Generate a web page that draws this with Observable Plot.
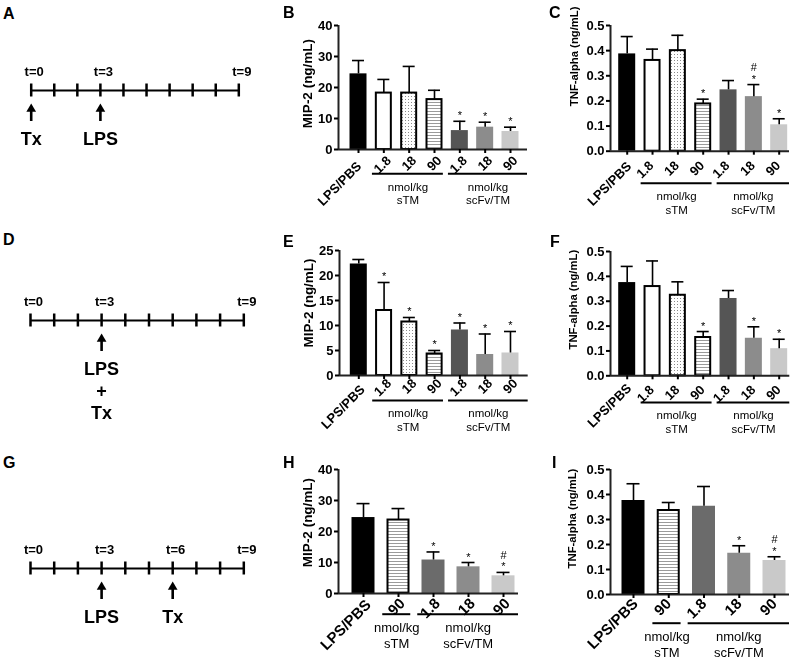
<!DOCTYPE html>
<html>
<head>
<meta charset="utf-8">
<script src="https://cdn.jsdelivr.net/npm/d3@7"></script>
<script src="https://cdn.jsdelivr.net/npm/@observablehq/plot@0.6"></script>
<style>
  body { margin: 0; background: #fff; }
  #fig { position: relative; width: 800px; height: 659px; overflow: hidden; font-family: Arial, "Liberation Sans", sans-serif; background: #fff; }
  .panel { position: absolute; will-change: transform; }
  .letter { position: absolute; font-weight: bold; font-size: 16px; line-height: 16px; color: #000; }
</style>
</head>
<body>
<svg width="0" height="0" style="position:absolute">
  <defs>
    <pattern id="dots" width="3" height="3" patternUnits="userSpaceOnUse">
      <rect width="3" height="3" fill="#fff"/>
      <rect x="1" y="1" width="1" height="1" fill="#8a8a8a"/>
    </pattern>
    <pattern id="hstripes" width="4" height="3" patternUnits="userSpaceOnUse">
      <rect width="4" height="3" fill="#fff"/>
      <rect y="1" width="4" height="1" fill="#9a9a9a"/>
    </pattern>
  </defs>
</svg>
<div id="fig"></div>
<script>
// ---------------- data ----------------
const fullCategories = ["LPS/PBS", "1.8", "18", "90", "1.8", "18", "90"];
const fullTreatments = ["LPS/PBS", "sTM", "sTM", "sTM", "scFv/TM", "scFv/TM", "scFv/TM"];
const lateCategories = ["LPS/PBS", "90", "1.8", "18", "90"];
const lateTreatments = ["LPS/PBS", "sTM", "scFv/TM", "scFv/TM", "scFv/TM"];

// B: pre-treatment, MIP-2
const mip2Pre = [24.4, 18.2, 18.2, 16.1, 6.1, 7.2, 5.8];
const mip2PreSem = [4.3, 4.4, 8.6, 3.0, 3.0, 1.6, 1.4];
const mip2PreSig = ["", "", "", "", "*", "*", "*"];
// C: pre-treatment, TNF-alpha
const tnfPre = [0.387, 0.361, 0.400, 0.188, 0.244, 0.217, 0.105];
const tnfPreSem = [0.069, 0.045, 0.061, 0.019, 0.037, 0.048, 0.024];
const tnfPreSig = ["", "", "", "*", "", "#\n*", "*"];
// E: co-treatment, MIP-2
const mip2Co = [22.3, 13.0, 10.7, 4.3, 9.1, 4.2, 4.5];
const mip2CoSem = [0.9, 5.6, 0.9, 0.7, 1.4, 4.1, 4.3];
const mip2CoSig = ["", "*", "*", "*", "*", "*", "*"];
// F: co-treatment, TNF-alpha
const tnfCo = [0.375, 0.359, 0.324, 0.154, 0.311, 0.151, 0.109];
const tnfCoSem = [0.065, 0.103, 0.054, 0.024, 0.032, 0.046, 0.038];
const tnfCoSig = ["", "", "", "*", "", "*", "*"];
// H: post-treatment, MIP-2
const mip2Post = [24.5, 23.7, 10.8, 8.6, 5.7];
const mip2PostSem = [4.5, 3.7, 2.6, 1.4, 1.1];
const mip2PostSig = ["", "", "*", "*", "#\n*"];
// I: post-treatment, TNF-alpha
const tnfPost = [0.376, 0.336, 0.353, 0.165, 0.136];
const tnfPostSem = [0.067, 0.032, 0.079, 0.030, 0.015];
const tnfPostSig = ["", "", "", "*", "#\n*"];

const mip2Ticks = [0, 10, 20, 30, 40];
const mip2CoTicks = [0, 5, 10, 15, 20, 25];
const tnfTicks = [0, 0.1, 0.2, 0.3, 0.4, 0.5];

// timelines
const timePoints = [0, 1, 2, 3, 4, 5, 6, 7, 8, 9];
const timeLabelTimes = [0, 3, 9];
const timeLabelTimesPost = [0, 3, 6, 9];
const preEventTimes = [0, 3];
const preEventLabels = ["Tx", "LPS"];
const coEventTimes = [3];
const coEventLabels = ["LPS\n+\nTx"];
const postEventTimes = [3, 6];
const postEventLabels = ["LPS", "Tx"];

// ---------------- styles ----------------
const barFills = {
  "LPS/PBS": "#000000",
  "sTM 1.8": "#ffffff",
  "sTM 18": "url(#dots)",
  "sTM 90": "url(#hstripes)",
  "scFv/TM 1.8": "#555555",
  "scFv/TM 18": "#8c8c8c",
  "scFv/TM 90": "#c9c9c9"
};
const outlinedKeys = new Set(["sTM 1.8", "sTM 18", "sTM 90"]);
const FONT = "Arial, 'Liberation Sans', sans-serif";
const fig = document.getElementById("fig");

function place(node, left, top) {
  node.classList.add("panel");
  node.style.left = left + "px";
  node.style.top = top + "px";
  fig.appendChild(node);
}

function barPanel(cfg, L) {
  const n = cfg.cats.length;
  const step = (L.c1 - L.c0) / (n - 1);
  const xMin = (L.left - L.c0) / step;
  const xMax = (n - 1) + (L.right - L.c1) / step;
  const sv = {l: L.left - 78, r: L.right + 8, t: L.top - 14, b: L.bottom + 72};
  const rows = cfg.cats.map((c, i) => {
    const key = cfg.treatments[i] === "LPS/PBS" ? "LPS/PBS" : cfg.treatments[i] + " " + c;
    return {
      i, cat: c, key,
      value: cfg.values[i],
      top: cfg.values[i] + cfg.sems[i],
      sig: cfg.sigs[i],
      outlined: outlinedKeys.has(key),
      fill: (cfg.fillOverride && cfg.fillOverride[key]) || barFills[key]
    };
  });
  const groups = [];
  cfg.treatments.forEach((t, i) => {
    if (t === "LPS/PBS") return;
    const g = groups[groups.length - 1];
    if (g && g.name === t && g.end === i - 1) g.end = i;
    else groups.push({name: t, start: i, end: i});
  });
  groups.forEach((g, k) => {
    g.x1 = g.start - 0.45;
    g.x2 = k === groups.length - 1 ? xMax : g.end + 0.35;
    g.xc = (g.x1 + g.x2) / 2;
    g.label = "nmol/kg\n" + g.name;
  });
  const hw = L.barW / 2 / step, px = 1 / step, cap = L.capW / 2 / step;
  const yMax = cfg.ticks[cfg.ticks.length - 1];
  const labelStyle = {x: "i", y: 0, text: "cat", rotate: -45, textAnchor: "end", fontSize: L.labFont, fontWeight: "bold"};
  const svg = Plot.plot({
    width: sv.r - sv.l,
    height: sv.b - sv.t,
    marginLeft: L.left - sv.l,
    marginRight: sv.r - L.right,
    marginTop: L.top - sv.t,
    marginBottom: sv.b - L.bottom,
    style: {background: "transparent", overflow: "visible", fontFamily: FONT, color: "#000"},
    x: {type: "linear", domain: [xMin, xMax]},
    y: {type: "linear", domain: [0, yMax]},
    color: {type: "identity"},
    marks: [
      Plot.rect(rows, {
        x1: d => d.i - hw + (d.outlined ? px : 0),
        x2: d => d.i + hw - (d.outlined ? px : 0),
        y1: 0, y2: "value",
        fill: "fill",
        stroke: d => d.outlined ? "#000000" : "none",
        strokeWidth: 2
      }),
      Plot.ruleX(rows, {x: "i", y1: "value", y2: "top", stroke: "#000", strokeWidth: 1.6}),
      Plot.ruleY(rows, {y: "top", x1: d => d.i - cap, x2: d => d.i + cap, stroke: "#000", strokeWidth: 1.6}),
      Plot.ruleY([0], {stroke: "#222", strokeWidth: 2}),
      Plot.ruleX([xMin], {stroke: "#222", strokeWidth: 2}),
      Plot.axisY({ticks: cfg.ticks, tickFormat: cfg.fmt, tickSize: 4, tickPadding: 2, fontSize: 13, fontWeight: "bold", strokeWidth: 2, label: null}),
      Plot.axisX({ticks: rows.map(d => d.i), tickSize: 4, tickFormat: () => "", strokeWidth: 2, label: null}),
      Plot.text(rows.filter(d => d.key === "LPS/PBS"), {...labelStyle, dx: L.ctrlOff[0], dy: L.ctrlOff[1]}),
      Plot.text(rows.filter(d => d.key !== "LPS/PBS"), {...labelStyle, dx: L.doseOff[0], dy: L.doseOff[1]}),
      Plot.ruleY(groups, {y: 0, x1: "x1", x2: "x2", dy: L.groupDy, stroke: "#000", strokeWidth: 2}),
      Plot.text(groups, {x: "xc", y: 0, text: "label", dy: L.groupDy + 7, lineAnchor: "top", fontSize: L.groupFont, lineHeight: 1.2}),
      Plot.text(rows.filter(d => d.sig), {x: "i", y: "top", text: "sig", lineAnchor: "bottom", dy: -2, fontSize: 11, lineHeight: 1.05, fill: "#000"}),
      Plot.text([cfg.yLabel], {frameAnchor: "left", text: d => d, rotate: -90, textAnchor: "middle", lineAnchor: "middle", dx: L.labelDx, dy: L.labelDy, fontSize: L.yFont, fontWeight: "bold"})
    ]
  });
  place(svg, sv.l, sv.t);
}

function timelinePanel(cfg, L) {
  const above = 45, below = 105;
  const labels = cfg.labelTimes.map(t => ({t, label: "t=" + t}));
  const events = cfg.eventTimes.map((t, k) => ({t, label: cfg.eventLabels[k]}));
  const svg = Plot.plot({
    width: 260,
    height: above + below,
    style: {background: "transparent", overflow: "visible", fontFamily: FONT, color: "#000"},
    x: {domain: [0, 9], range: [L.x0, L.x1], axis: null},
    y: {domain: [-above, below], range: [0, above + below], axis: null},
    marks: [
      Plot.ruleY([0], {x1: 0, x2: 9, stroke: "#000", strokeWidth: 2.2}),
      Plot.ruleX(timePoints, {x: d => d, y1: -6.5, y2: 6.5, stroke: "#000", strokeWidth: 2.5}),
      Plot.text(labels, {x: "t", y: -19, text: "label", dx: 3, fontSize: 13, fontWeight: "bold"}),
      Plot.ruleX(events, {x: "t", y1: 20, y2: 31, stroke: "#000", strokeWidth: 2.6}),
      Plot.dot(events, {x: "t", y: 18.5, symbol: "triangle", r: 3.6, fill: "#000", stroke: "none"}),
      Plot.text(events, {x: "t", y: 39.5, text: "label", lineAnchor: "top", fontSize: 18, fontWeight: "bold", lineHeight: 1.2})
    ]
  });
  place(svg, 0, L.lineY - above);
}

// ---------------- panels ----------------
const intFmt = d3.format("d");
const decFmt = d3.format(".1f");

timelinePanel({labelTimes: timeLabelTimes, eventTimes: preEventTimes, eventLabels: preEventLabels}, {lineY: 90, x0: 30.7, x1: 238.3});
timelinePanel({labelTimes: timeLabelTimes, eventTimes: coEventTimes, eventLabels: coEventLabels}, {lineY: 320, x0: 30, x1: 243.3});
timelinePanel({labelTimes: timeLabelTimesPost, eventTimes: postEventTimes, eventLabels: postEventLabels}, {lineY: 568.3, x0: 30, x1: 243.3});

const hiShade = {"scFv/TM 1.8": "#6b6b6b"};

barPanel({cats: fullCategories, treatments: fullTreatments, values: mip2Pre, sems: mip2PreSem, sigs: mip2PreSig, ticks: mip2Ticks, fmt: intFmt, yLabel: "MIP-2 (ng/mL)"},
  {left: 338, right: 527, top: 25, bottom: 149, c0: 358, c1: 510, barW: 17, capW: 12, labFont: 13, ctrlOff: [0.8, 14.6], doseOff: [5, 8.9], groupDy: 24.3, groupFont: 11.5, labelDx: -31, labelDy: -4, yFont: 13.5});
barPanel({cats: fullCategories, treatments: fullTreatments, values: tnfPre, sems: tnfPreSem, sigs: tnfPreSig, ticks: tnfTicks, fmt: decFmt, yLabel: "TNF-alpha (ng/mL)"},
  {left: 610, right: 789, top: 25, bottom: 150.7, c0: 626.7, c1: 778.7, barW: 17, capW: 12, labFont: 13, ctrlOff: [2, 13], doseOff: [-1, 12.2], groupDy: 32, groupFont: 11.5, labelDx: -36.5, labelDy: -32, yFont: 11.3});
barPanel({cats: fullCategories, treatments: fullTreatments, values: mip2Co, sems: mip2CoSem, sigs: mip2CoSig, ticks: mip2CoTicks, fmt: intFmt, yLabel: "MIP-2 (ng/mL)"},
  {left: 339, right: 527.7, top: 250, bottom: 375, c0: 358.3, c1: 510, barW: 17, capW: 12, labFont: 13, ctrlOff: [4, 11.9], doseOff: [5, 5.8], groupDy: 25, groupFont: 11.5, labelDx: -31, labelDy: -10, yFont: 13.5});
barPanel({cats: fullCategories, treatments: fullTreatments, values: tnfCo, sems: tnfCoSem, sigs: tnfCoSig, ticks: tnfTicks, fmt: decFmt, yLabel: "TNF-alpha (ng/mL)"},
  {left: 610, right: 789.3, top: 250.7, bottom: 375, c0: 626.7, c1: 778.7, barW: 17, capW: 12, labFont: 13, ctrlOff: [2, 10.3], doseOff: [-0.5, 11.9], groupDy: 26.7, groupFont: 11.5, labelDx: -37, labelDy: -14, yFont: 11.3});
barPanel({cats: lateCategories, treatments: lateTreatments, values: mip2Post, sems: mip2PostSem, sigs: mip2PostSig, ticks: mip2Ticks, fmt: intFmt, yLabel: "MIP-2 (ng/mL)", fillOverride: hiShade},
  {left: 338, right: 518, top: 469.3, bottom: 593.3, c0: 363, c1: 503, barW: 23, capW: 13, labFont: 15, ctrlOff: [5, 8.8], doseOff: [4, 7.5], groupDy: 20.7, groupFont: 13, labelDx: -31, labelDy: -9, yFont: 13.5});
barPanel({cats: lateCategories, treatments: lateTreatments, values: tnfPost, sems: tnfPostSem, sigs: tnfPostSig, ticks: tnfTicks, fmt: decFmt, yLabel: "TNF-alpha (ng/mL)", fillOverride: hiShade},
  {left: 610, right: 789, top: 469, bottom: 594, c0: 633, c1: 774, barW: 23, capW: 13, labFont: 15, ctrlOff: [2, 6.8], doseOff: [0, 6.8], groupDy: 28.7, groupFont: 13, labelDx: -38, labelDy: -13.5, yFont: 11.3});

// panel letters
const panelLetters = ["A", "B", "C", "D", "E", "F", "G", "H", "I"];
const letterSpots = [[3, 19], [283, 18], [549, 18], [3, 245], [283, 247], [550, 247], [3, 468], [283, 468], [552, 468]];
panelLetters.forEach((t, k) => {
  const d = document.createElement("div");
  d.className = "letter";
  d.textContent = t;
  d.style.left = letterSpots[k][0] + "px";
  d.style.top = (letterSpots[k][1] - 13.5) + "px";
  fig.appendChild(d);
});
</script>
</body>
</html>
